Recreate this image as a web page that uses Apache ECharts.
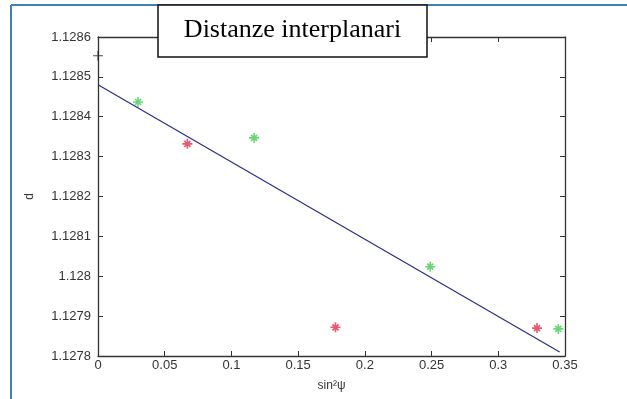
<!DOCTYPE html>
<html><head><meta charset="utf-8">
<script src="https://cdn.jsdelivr.net/npm/echarts@6/dist/echarts.min.js"></script>
<style>html,body{margin:0;padding:0;background:#fff}#c{width:627px;height:399px}</style>
</head><body><div id="c"></div>
<script>
const xTicks = [0, 0.05, 0.1, 0.15, 0.2, 0.25, 0.3, 0.35];
const yTicks = [1.1278, 1.1279, 1.128, 1.1281, 1.1282, 1.1283, 1.1284, 1.1285, 1.1286];
const redX = [0.067, 0.178, 0.329];
const redY = [1.128332, 1.127872, 1.12787];
const greenX = [0.030, 0.117, 0.249, 0.345];
const greenY = [1.128437, 1.128347, 1.128024, 1.127868];
const blackX = [0];
const blackY = [1.128553];
const fitX = [0, 0.346];
const fitY = [1.12848, 1.12781];

const zip = (a, b) => a.map((v, i) => [v, b[i]]);
const star = 'path://M-0.8,-5L0.8,-5L0.8,-0.8L5,-0.8L5,0.8L0.8,0.8L0.8,5L-0.8,5L-0.8,0.8L-5,0.8L-5,-0.8L-0.8,-0.8Z M-3.6,-2.4L-2.4,-3.6L3.6,2.4L2.4,3.6Z M2.4,-3.6L3.6,-2.4L-2.4,3.6L-3.6,2.4Z';
const plus = 'path://M-0.6,-5L0.6,-5L0.6,-0.6L5,-0.6L5,0.6L0.6,0.6L0.6,5L-0.6,5L-0.6,0.6L-5,0.6L-5,-0.6L-0.6,-0.6Z';
const fmtY = v => parseFloat(v.toFixed(4)).toString();
const fmtX = v => parseFloat(v.toFixed(2)).toString();
const axisCol = '#333';
const lblStyle = { color: '#333', fontSize: 13, fontFamily: 'Liberation Sans, Arial, sans-serif' };

const chart = echarts.init(document.getElementById('c'));
chart.setOption({
  animation: false,
  backgroundColor: '#fff',
  grid: { left: 98, right: 62, top: 37, bottom: 43, containLabel: false },
  xAxis: [{
    type: 'value', min: xTicks[0], max: xTicks[xTicks.length - 1], interval: 0.05,
    axisLine: { show: true, onZero: false, lineStyle: { color: axisCol, width: 1.3 } },
    axisTick: { show: true, inside: true, length: 5, lineStyle: { color: axisCol } },
    axisLabel: Object.assign({ formatter: fmtX, margin: 3 }, lblStyle),
    splitLine: { show: false },
    name: 'sin²ψ', nameLocation: 'middle', nameGap: 24,
    nameTextStyle: { fontSize: 12, color: '#333', fontFamily: 'Liberation Sans, Arial' }
  }, {
    type: 'value', position: 'top', min: xTicks[0], max: xTicks[xTicks.length - 1], interval: 0.05,
    axisLine: { show: true, onZero: false, lineStyle: { color: axisCol, width: 1.3 } },
    axisTick: { show: true, inside: true, length: 5, lineStyle: { color: axisCol } },
    axisLabel: { show: false }, splitLine: { show: false }
  }],
  yAxis: [{
    type: 'value', min: yTicks[0], max: yTicks[yTicks.length - 1], interval: 0.0001,
    axisLine: { show: true, onZero: false, lineStyle: { color: axisCol, width: 1.3 } },
    axisTick: { show: true, inside: true, length: 5, lineStyle: { color: axisCol } },
    axisLabel: Object.assign({ formatter: fmtY, margin: 7 }, lblStyle),
    splitLine: { show: false },
    name: 'd', nameLocation: 'middle', nameGap: 62, nameRotate: 90,
    nameTextStyle: { fontSize: 12, color: '#333', fontFamily: 'Liberation Sans, Arial' }
  }, {
    type: 'value', position: 'right', min: yTicks[0], max: yTicks[yTicks.length - 1], interval: 0.0001,
    axisLine: { show: true, onZero: false, lineStyle: { color: axisCol, width: 1.3 } },
    axisTick: { show: true, inside: true, length: 5, lineStyle: { color: axisCol } },
    axisLabel: { show: false }, splitLine: { show: false }
  }],
  series: [
    { type: 'line', data: zip(fitX, fitY), symbol: 'none', lineStyle: { color: '#2b2b8c', width: 1.2 }, z: 2 },
    { type: 'scatter', data: zip(greenX, greenY), symbol: star, symbolSize: 10, itemStyle: { color: '#3fcf4f' }, clip: false, z: 3 },
    { type: 'scatter', data: zip(redX, redY), symbol: star, symbolSize: 10, itemStyle: { color: '#e0304a' }, clip: false, z: 3 },
    { type: 'scatter', data: zip(blackX, blackY), symbol: plus, symbolSize: 10, itemStyle: { color: '#222' }, clip: false, z: 3 }
  ],
  graphic: [
    { type: 'line', shape: { x1: 11, y1: 5, x2: 627, y2: 5 }, style: { stroke: '#3d7fc1', lineWidth: 2 }, z: 10 },
    { type: 'line', shape: { x1: 11, y1: 5, x2: 11, y2: 399 }, style: { stroke: '#3d7fc1', lineWidth: 2 }, z: 10 },
    { type: 'rect', shape: { x: 158, y: 5, width: 269, height: 52 }, style: { fill: '#fff', stroke: '#111', lineWidth: 1.5 }, z: 20 },
    { type: 'text', x: 292.5, y: 30, style: { text: 'Distanze interplanari', fontFamily: 'Liberation Serif, Times New Roman, serif', fontSize: 26, fill: '#000', align: 'center', verticalAlign: 'middle' }, z: 21 }
  ]
});
</script></body></html>
